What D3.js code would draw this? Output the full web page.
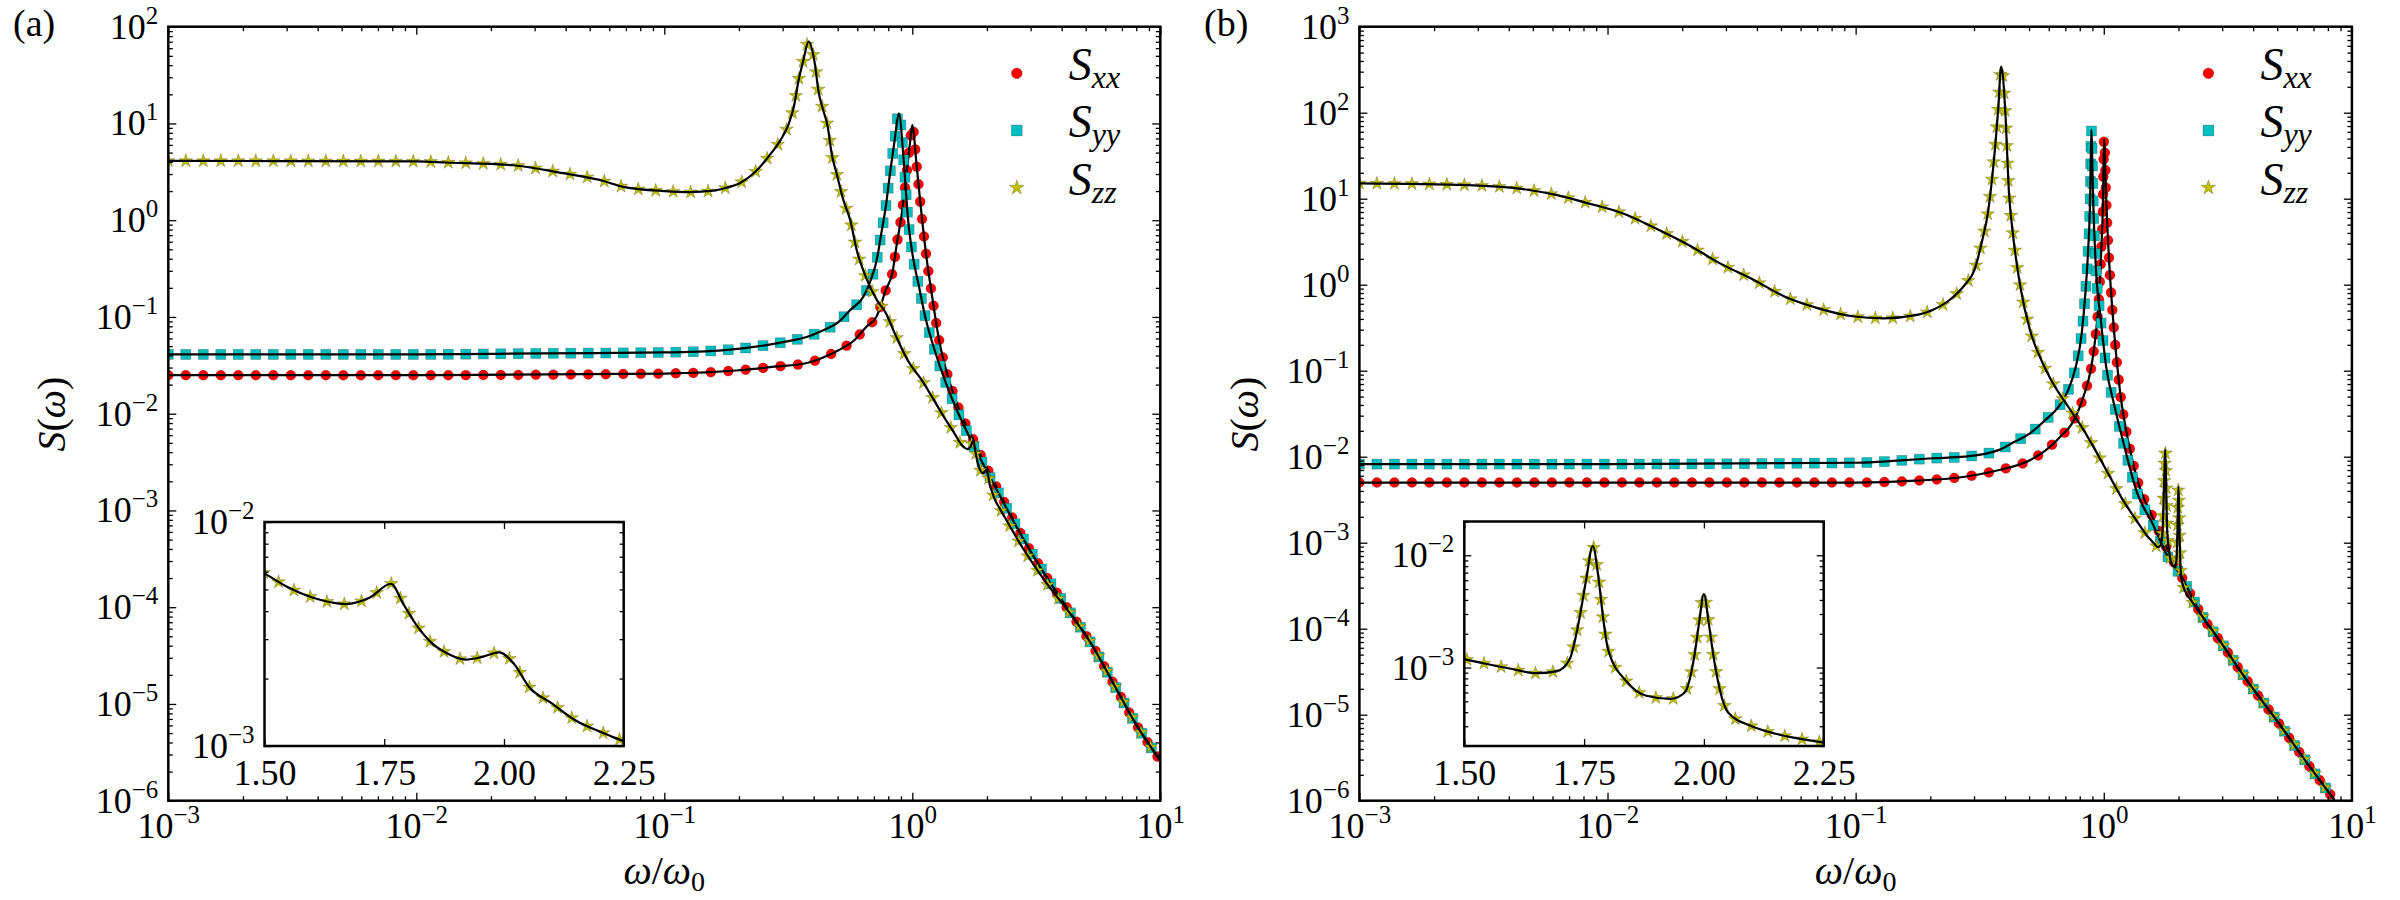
<!DOCTYPE html>
<html>
<head>
<meta charset="utf-8">
<title>S(omega)</title>
<script src="https://cdn.jsdelivr.net/npm/d3@7"></script>
<style>
  body { margin: 0; background: #fff; }
  svg, svg text, svg tspan { font-family: "Liberation Serif", "Times New Roman", "DejaVu Serif", serif; }
  svg text { fill: #000; }
</style>
</head>
<body>
<svg id="chart" width="2400" height="900" font-family="Liberation Serif, Times New Roman, DejaVu Serif, serif"></svg>
<script>
// ---------- values ----------
// panel (a)
const omegaA_xx = [0.001, 0.01, 0.1, 0.207, 0.277, 0.372, 0.437, 0.506, 0.585, 0.649, 0.719, 0.782, 0.832, 0.867, 0.904, 0.942, 0.98, 1.0,
  1.042, 1.089, 1.135, 1.208, 1.282, 1.393, 1.51, 1.79, 2.3, 2.82, 3.47, 4.27, 5.25, 6.47, 7.94, 10];
const sA_xx = [0.025, 0.025, 0.026, 0.0283, 0.0306, 0.0332, 0.038, 0.0455, 0.0578, 0.078, 0.102, 0.19, 0.29, 0.58, 1.1, 2.6, 6.5, 9.6,
  3.57, 1.17, 0.457, 0.15, 0.0578, 0.0242, 0.0129, 4.94e-3, 1.35e-3, 5.0e-4, 2.07e-4, 9.3e-5, 4.24e-5, 1.63e-5, 6.3e-6, 2.6e-6];

const omegaA_yy = [0.001, 0.01, 0.0316, 0.1, 0.175, 0.234, 0.324, 0.372, 0.431, 0.506, 0.562, 0.635, 0.676, 0.719, 0.75, 0.782, 0.813,
  0.849, 0.883, 0.923, 0.962, 1.0, 1.064, 1.135, 1.23, 1.368, 1.51, 1.72, 2.3, 2.82, 3.47, 4.27, 5.25, 6.47, 7.94, 10];
const sA_yy = [0.041, 0.041, 0.042, 0.043, 0.0455, 0.0493, 0.0569, 0.0617, 0.0716, 0.0893, 0.118, 0.162, 0.231, 0.389, 0.733, 1.38, 3.05,
  6.76, 12.7, 4.19, 1.0, 0.457, 0.206, 0.0933, 0.0455, 0.0206, 0.011, 5.4e-3, 1.29e-3, 4.94e-4, 2.07e-4, 9.3e-5, 4.24e-5, 1.63e-5, 6.3e-6, 2.6e-6];

const omegaA_zz = [0.001, 0.01, 0.0132, 0.0245, 0.039, 0.055, 0.069, 0.1, 0.126, 0.158, 0.175, 0.203, 0.234, 0.266, 0.295, 0.316, 0.333, 0.348,
  0.363, 0.382, 0.403, 0.42, 0.437, 0.456, 0.474, 0.495, 0.527, 0.562, 0.597, 0.649, 0.719, 0.782, 0.849, 0.962, 1.09, 1.34,
  1.5, 1.55, 1.6, 1.67, 1.72, 1.764, 1.79, 1.82, 1.85, 1.88, 1.92, 1.955, 1.99, 2.02, 2.052, 2.1, 2.15, 2.2, 2.25,
  2.82, 3.47, 4.27, 5.25, 6.47, 7.94, 10];
const sA_zz = [4.1, 4.05, 3.95, 3.7, 3.07, 2.6, 2.2, 2.0, 1.95, 2.02, 2.14, 2.44, 3.2, 4.7, 6.8, 9.6, 14.9, 28,
  44, 70, 44, 20.4, 13.8, 9.25, 4.72, 3.05, 1.62, 1.0, 0.49, 0.26, 0.15, 0.11, 0.068, 0.035, 0.0224, 0.0093,
  5.9e-3, 5.1e-3, 4.6e-3, 4.3e-3, 4.6e-3, 5.3e-3, 4.3e-3, 3.4e-3, 2.87e-3, 2.6e-3, 2.43e-3, 2.5e-3, 2.62e-3, 2.34e-3, 1.84e-3, 1.55e-3, 1.3e-3, 1.16e-3, 1.05e-3,
  3.9e-4, 1.78e-4, 9.0e-5, 4.24e-5, 1.63e-5, 6.3e-6, 2.6e-6];

// panel (b)
const omegaB_xx = [0.001, 0.01, 0.1, 0.174, 0.275, 0.379, 0.504, 0.581, 0.668, 0.745, 0.828, 0.891, 0.923, 0.955, 0.977, 0.993, 1.003,
  1.023, 1.054, 1.102, 1.161, 1.268, 1.365, 1.57, 1.81, 2.09, 2.5, 2.98, 3.69, 5.08, 6.75, 8.5];
const sB_xx = [5.0e-3, 5.0e-3, 5.0e-3, 5.26e-3, 5.85e-3, 7.0e-3, 9.1e-3, 0.0118, 0.0171, 0.0244, 0.0499, 0.111, 0.228, 0.664, 2.51, 9.55, 50,
  9.55, 1.62, 0.272, 0.06, 0.0131, 5.4e-3, 2.0e-3, 8.2e-4, 3.7e-4, 1.38e-4, 6.8e-5, 2.75e-5, 7.9e-6, 2.5e-6, 1.02e-6];

const omegaB_yy = [0.001, 0.01, 0.1, 0.207, 0.275, 0.379, 0.437, 0.504, 0.581, 0.658, 0.719, 0.771, 0.815, 0.843, 0.865, 0.881, 0.891,
  0.906, 0.929, 0.973, 1.023, 1.102, 1.202, 1.365, 1.57, 1.81, 2.02, 2.5, 2.98, 3.69, 5.08, 6.75, 8.5];
const sB_yy = [8.2e-3, 8.2e-3, 8.5e-3, 9.6e-3, 0.01, 0.012, 0.0149, 0.0187, 0.0267, 0.0381, 0.0597, 0.111, 0.272, 0.794, 2.53, 9.64, 63,
  9.64, 1.62, 0.389, 0.11, 0.04, 0.0143, 3.75e-3, 1.68e-3, 6.9e-4, 4.37e-4, 1.38e-4, 6.8e-5, 2.75e-5, 7.9e-6, 2.5e-6, 1.02e-6];

const omegaB_zz = [0.001, 0.00275, 0.0045, 0.00627, 0.00837, 0.0115, 0.0156, 0.0213, 0.0284, 0.0389, 0.0519, 0.0708, 0.0966, 0.13,
  0.177, 0.204, 0.239, 0.275, 0.301, 0.324, 0.341, 0.353, 0.366, 0.376, 0.386, 0.4, 0.415, 0.43, 0.461, 0.504, 0.56, 0.624, 0.719,
  0.83, 0.923, 1.023, 1.183, 1.365, 1.5, 1.55, 1.6, 1.65, 1.694, 1.72, 1.74, 1.755, 1.768, 1.78, 1.79, 1.8, 1.84, 1.88, 1.93, 1.96,
  1.98, 1.99, 2.0, 2.01, 2.02, 2.05, 2.1, 2.15, 2.25, 2.5, 2.98, 3.69, 5.08, 6.75, 8.5];
const sB_zz = [15.1, 14.4, 13.0, 11.0, 8.83, 6.76, 4.53, 2.88, 1.77, 1.135, 0.724, 0.531, 0.43, 0.407,
  0.445, 0.508, 0.664, 0.993, 1.48, 3.31, 6.76, 15.1, 44, 117, 343, 117, 11.6, 3.95, 0.948, 0.297, 0.133, 0.0713, 0.0381,
  0.0204, 0.012, 7.0e-3, 3.28e-3, 1.75e-3, 1.19e-3, 1.07e-3, 9.7e-4, 8.9e-4, 9.3e-4, 1.19e-3, 2.7e-3, 6.3e-3, 1.21e-2, 6.3e-3, 2.7e-3, 1.45e-3, 7.4e-4, 5.6e-4, 5.25e-4, 6.0e-4,
  1.26e-3, 2.5e-3, 4.5e-3, 2.5e-3, 1.26e-3, 4.0e-4, 3.0e-4, 2.57e-4, 2.14e-4, 1.38e-4, 6.8e-5, 2.75e-5, 7.9e-6, 2.5e-6, 1.02e-6];

// axes and tick labels
const xDomain = [1e-3, 1e1];
const xMajor = [1e-3, 1e-2, 1e-1, 1e0, 1e1];
const yDomainA = [1e-6, 1e2];
const yMajorA = [1e-6, 1e-5, 1e-4, 1e-3, 1e-2, 1e-1, 1e0, 1e1, 1e2];
const yDomainB = [1e-6, 1e3];
const yMajorB = [1e-6, 1e-5, 1e-4, 1e-3, 1e-2, 1e-1, 1e0, 1e1, 1e2, 1e3];
const insetXDomain = [1.5, 2.25];
const insetXTicks = [1.5, 1.75, 2.0, 2.25];
const insetYDomainA = [1e-3, 1e-2];
const insetYDomainB = [2e-4, 2e-2];
const insetYTicks = [1e-3, 1e-2];
const seriesNames = ['xx', 'yy', 'zz'];

// ---------- styles ----------
const markColors = ['#ff0000', '#00bfbf', '#bfbf00'];
const MARK_STEP = 17.5;   // px between markers along the line (like markevery)
const SERIF = '"Liberation Serif", "Times New Roman", "DejaVu Serif", serif';

const svg = d3.select('#chart');

// superscript power-of-ten labels
function supLabel(sel) {
    sel.each(function (d) {
        const e = Math.round(Math.log10(d));
        const t = d3.select(this).text('10');
        t.append('tspan').attr('dy', -15).attr('font-size', 25)
            .text(e < 0 ? '\u2212' + (-e) : String(e));
    });
}

function addMarker(sel, k, x, y, sc = 1) {
    let m;
    if (k === 0) m = sel.append('circle').attr('cx', x).attr('cy', y).attr('r', 5 * sc);
    else if (k === 1) m = sel.append('rect').attr('x', x - 5 * sc).attr('y', y - 5 * sc)
        .attr('width', 10 * sc).attr('height', 10 * sc);
    else m = sel.append('path').attr('d', d3.symbol(d3.symbolStar, 58 * sc * sc)())
        .attr('transform', `translate(${x},${y})`);
    m.attr('fill', markColors[k]).attr('stroke', '#000')
        .attr('stroke-opacity', 0.3).attr('stroke-width', 0.7);
}

// black line + markers spaced evenly along it
function drawSeries(g, pts, k) {
    const marks = g.append('g');
    const path = g.append('path')
        .attr('d', d3.line().curve(d3.curveMonotoneX)(pts))
        .attr('fill', 'none').attr('stroke', '#000').attr('stroke-width', 2.2);
    const node = path.node();
    const L = node.getTotalLength();
    for (let s = 0; s <= L; s += MARK_STEP) {
        const p = node.getPointAtLength(s);
        addMarker(marks, k, p.x, p.y);
    }
}

function addAxis(g, axis, tx, ty, pow) {
    const a = g.append('g').attr('transform', `translate(${tx},${ty})`).call(axis);
    a.select('.domain').remove();
    a.attr('font-size', 36).attr('font-family', SERIF);
    a.selectAll('line').attr('stroke-width', 1.3);
    if (pow) a.selectAll('.tick text').call(supLabel);
    return a;
}

const isDecade = v => Math.abs(Math.log10(v) - Math.round(Math.log10(v))) < 1e-6;

// ticks on all four sides, pointing inward
function drawTicks(g, x, y, w, h, o) {
    const blank = () => '';
    [[d3.axisBottom, h, true], [d3.axisTop, 0, false]].forEach(([mk, ty, lab]) => {
        addAxis(g, mk(x).tickValues(o.xMajor).tickSize(-o.major).tickPadding(o.xPad)
            .tickFormat(lab ? o.xFmt : blank), 0, ty, lab && o.xPow);
        if (o.xMinor.length)
            addAxis(g, mk(x).tickValues(o.xMinor).tickSize(-o.minor).tickFormat(blank), 0, ty);
    });
    [[d3.axisLeft, 0, true], [d3.axisRight, w, false]].forEach(([mk, tx, lab]) => {
        addAxis(g, mk(y).tickValues(o.yMajor).tickSize(-o.major).tickPadding(10)
            .tickFormat(blank), tx, 0, lab);
        addAxis(g, mk(y).tickValues(o.yMinor).tickSize(-o.minor).tickFormat(blank), tx, 0);
    });
}

function frame(g, w, h) {
    g.append('rect').attr('width', w).attr('height', h)
        .attr('fill', 'none').attr('stroke', '#000').attr('stroke-width', 2.5);
}

function drawPanel(p, idx) {
    const w = p.right - p.left, h = p.bottom - p.top;
    const x = d3.scaleLog().domain(xDomain).range([0, w]);
    const y = d3.scaleLog().domain(p.yDomain).range([h, 0]);
    const g = svg.append('g').attr('transform', `translate(${p.left},${p.top})`);

    g.append('clipPath').attr('id', 'clip' + idx)
        .append('rect').attr('width', w).attr('height', h);
    const plot = g.append('g').attr('clip-path', `url(#clip${idx})`);
    p.series.forEach(([om, s], k) => {
        drawSeries(plot, om.map((v, i) => [x(v), y(s[i])]), k);
    });

    drawTicks(g, x, y, w, h, {
        xMajor: xMajor, xMinor: x.ticks().filter(v => !isDecade(v)),
        yMajor: p.yMajor, yMinor: y.ticks().filter(v => !isDecade(v)),
        major: 8, minor: 4.5, xPad: 12, xFmt: () => '', xPow: true
    });
    frame(g, w, h);

    // legend
    const lg = g.append('g').attr('transform', `translate(${w - 143.5},46.6)`);
    seriesNames.forEach((nm, k) => {
        const yy = k * 57.2;
        addMarker(lg, k, 0, yy, 1.08);
        const t = lg.append('text').attr('x', 52).attr('y', yy + 7).attr('font-family', SERIF)
            .attr('font-size', 46).attr('font-style', 'italic').text('S');
        t.append('tspan').attr('font-size', 32).attr('dy', 8).text(nm);
    });

    // inset: S_zz around the two small resonances
    const ins = p.inset;
    const iw = ins.right - ins.left, ih = ins.bottom - ins.top;
    const ix = d3.scaleLinear().domain(insetXDomain).range([0, iw]);
    const iy = d3.scaleLog().domain(ins.yDomain).range([ih, 0]);
    const gi = svg.append('g').attr('transform', `translate(${ins.left},${ins.top})`);
    gi.append('rect').attr('width', iw).attr('height', ih).attr('fill', '#fff');
    gi.append('clipPath').attr('id', 'iclip' + idx)
        .append('rect').attr('width', iw).attr('height', ih);
    const iplot = gi.append('g').attr('clip-path', `url(#iclip${idx})`);
    const [om, s] = p.series[2];
    const ipts = om.map((v, i) => [v, s[i]])
        .filter(d => d[0] >= 1.3 && d[0] <= 2.9)
        .map(d => [ix(d[0]), iy(d[1])]);
    drawSeries(iplot, ipts, 2);
    drawTicks(gi, ix, iy, iw, ih, {
        xMajor: insetXTicks, xMinor: [],
        yMajor: insetYTicks, yMinor: iy.ticks().filter(v => !isDecade(v)),
        major: 7, minor: 4, xPad: 13, xFmt: d3.format('.2f'), xPow: false
    });
    frame(gi, iw, ih);

    // panel tag and axis titles
    svg.append('text').attr('x', p.tagX).attr('y', 36).attr('font-family', SERIF)
        .attr('font-size', 38).text(p.tag);

    const yl = svg.append('text').attr('transform', `translate(${p.yLabelX},414) rotate(-90)`)
        .attr('text-anchor', 'middle').attr('font-family', SERIF).attr('font-size', 40);
    yl.append('tspan').attr('font-style', 'italic').text('S');
    yl.append('tspan').text('(');
    yl.append('tspan').attr('font-style', 'italic').text('\u03c9');
    yl.append('tspan').text(')');

    const xl = svg.append('text').attr('x', p.left + w / 2).attr('y', 884)
        .attr('text-anchor', 'middle').attr('font-family', SERIF).attr('font-size', 40);
    xl.append('tspan').attr('font-style', 'italic').text('\u03c9');
    xl.append('tspan').text('/');
    xl.append('tspan').attr('font-style', 'italic').text('\u03c9');
    xl.append('tspan').attr('font-size', 28).attr('dy', 7).text('0');
}

const panels = [
    {
        tag: '(a)', tagX: 13, yLabelX: 65,
        left: 168.3, right: 1160.3, top: 26.7, bottom: 800.7,
        yDomain: yDomainA, yMajor: yMajorA,
        series: [[omegaA_xx, sA_xx], [omegaA_yy, sA_yy], [omegaA_zz, sA_zz]],
        inset: { left: 264.5, right: 623.7, top: 522, bottom: 746, yDomain: insetYDomainA }
    },
    {
        tag: '(b)', tagX: 1204, yLabelX: 1258,
        left: 1359.4, right: 2351.9, top: 26.7, bottom: 800.7,
        yDomain: yDomainB, yMajor: yMajorB,
        series: [[omegaB_xx, sB_xx], [omegaB_yy, sB_yy], [omegaB_zz, sB_zz]],
        inset: { left: 1464.3, right: 1823.7, top: 521.5, bottom: 746, yDomain: insetYDomainB }
    }
];

panels.forEach(drawPanel);
</script>
</body>
</html>
